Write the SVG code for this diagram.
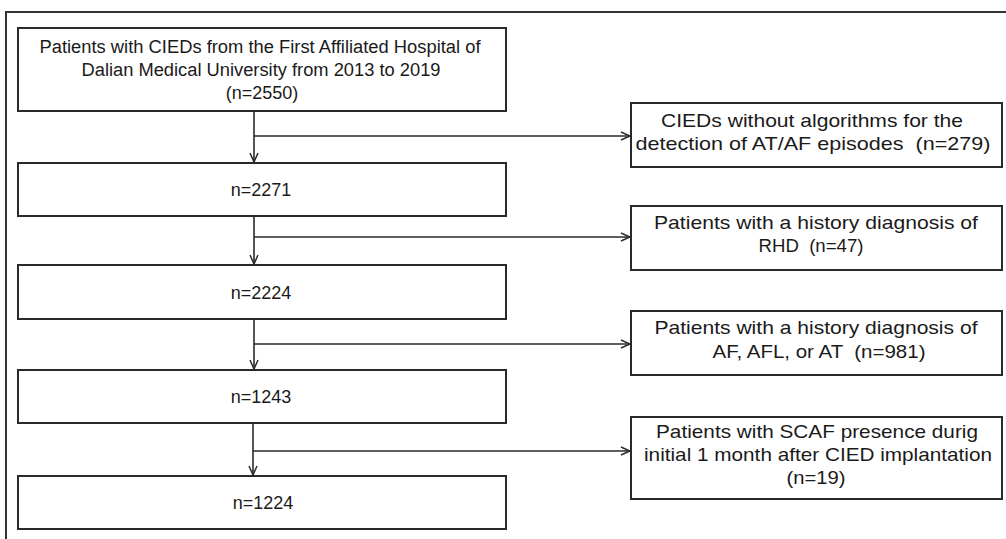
<svg xmlns="http://www.w3.org/2000/svg" width="1006" height="539" viewBox="0 0 1006 539">
<style>
.box{fill:#fff;stroke:#2a2a2a;stroke-width:2}
.t{font-family:"Liberation Sans",Arial,sans-serif;font-size:18px;fill:#1a1a1a;text-anchor:middle}
.r{font-family:"Liberation Sans",Arial,sans-serif;font-size:19px;fill:#1a1a1a;text-anchor:middle}
.c{fill:none;stroke:#2a2a2a;stroke-width:1.6}
</style>
<defs>
<marker id="ah" viewBox="0 0 10 10" refX="10" refY="5" markerWidth="10" markerHeight="10" markerUnits="userSpaceOnUse" orient="auto">
<path d="M1,1 L10,5 L1,9" fill="none" stroke="#2a2a2a" stroke-width="1.5"/>
</marker>
</defs>
<rect width="1006" height="539" fill="#fff"/>
<path d="M6,539 V12 H1006" fill="none" stroke="#333" stroke-width="2"/>
<g id="n1"><rect class="box" x="18" y="28" width="488" height="83"/>
<text class="t" x="260" y="53" textLength="441" lengthAdjust="spacingAndGlyphs">Patients with CIEDs from the First Affiliated Hospital of</text>
<text class="t" x="261" y="76" textLength="359" lengthAdjust="spacingAndGlyphs">Dalian Medical University from 2013 to 2019</text>
<text class="t" x="262" y="99">(n=2550)</text></g>
<g id="n2"><rect class="box" x="18" y="163" width="488" height="53"/><text class="t" x="261" y="196">n=2271</text></g>
<g id="n3"><rect class="box" x="18" y="265" width="488" height="54"/><text class="t" x="261" y="299">n=2224</text></g>
<g id="n4"><rect class="box" x="18" y="370" width="488" height="53"/><text class="t" x="261" y="403">n=1243</text></g>
<g id="n5"><rect class="box" x="18" y="476" width="488" height="53"/><text class="t" x="263" y="509">n=1224</text></g>
<g id="e1"><rect class="box" x="631" y="103" width="371" height="64"/>
<text class="r" x="812" y="127" textLength="302" lengthAdjust="spacingAndGlyphs">CIEDs without algorithms for the</text>
<text class="r" x="813" y="150" textLength="355" lengthAdjust="spacingAndGlyphs" xml:space="preserve">detection of AT/AF episodes  (n=279)</text></g>
<g id="e2"><rect class="box" x="631" y="206" width="371" height="64"/>
<text class="r" x="816" y="229" textLength="324" lengthAdjust="spacingAndGlyphs">Patients with a history diagnosis of</text>
<text class="r" x="811" y="252" textLength="105" lengthAdjust="spacingAndGlyphs" xml:space="preserve">RHD  (n=47)</text></g>
<g id="e3"><rect class="box" x="631" y="311" width="371" height="64"/>
<text class="r" x="816" y="334" textLength="323" lengthAdjust="spacingAndGlyphs">Patients with a history diagnosis of</text>
<text class="r" x="819" y="358" textLength="213" lengthAdjust="spacingAndGlyphs" xml:space="preserve">AF, AFL, or AT  (n=981)</text></g>
<g id="e4"><rect class="box" x="631" y="417" width="371" height="82"/>
<text class="r" x="817" y="438" textLength="322" lengthAdjust="spacingAndGlyphs">Patients with SCAF presence durig</text>
<text class="r" x="818" y="461" textLength="348" lengthAdjust="spacingAndGlyphs">initial 1 month after CIED implantation</text>
<text class="r" x="816" y="484" textLength="59" lengthAdjust="spacingAndGlyphs">(n=19)</text></g>
<g id="connectors">
<path class="c" d="M254,111 V162" marker-end="url(#ah)"/>
<path class="c" d="M254,136 H630" marker-end="url(#ah)"/>
<path class="c" d="M254,216 V264" marker-end="url(#ah)"/>
<path class="c" d="M254,237 H630" marker-end="url(#ah)"/>
<path class="c" d="M254,319 V369" marker-end="url(#ah)"/>
<path class="c" d="M254,344 H630" marker-end="url(#ah)"/>
<path class="c" d="M253,423 V475" marker-end="url(#ah)"/>
<path class="c" d="M253,451 H630" marker-end="url(#ah)"/>
</g>
</svg>
